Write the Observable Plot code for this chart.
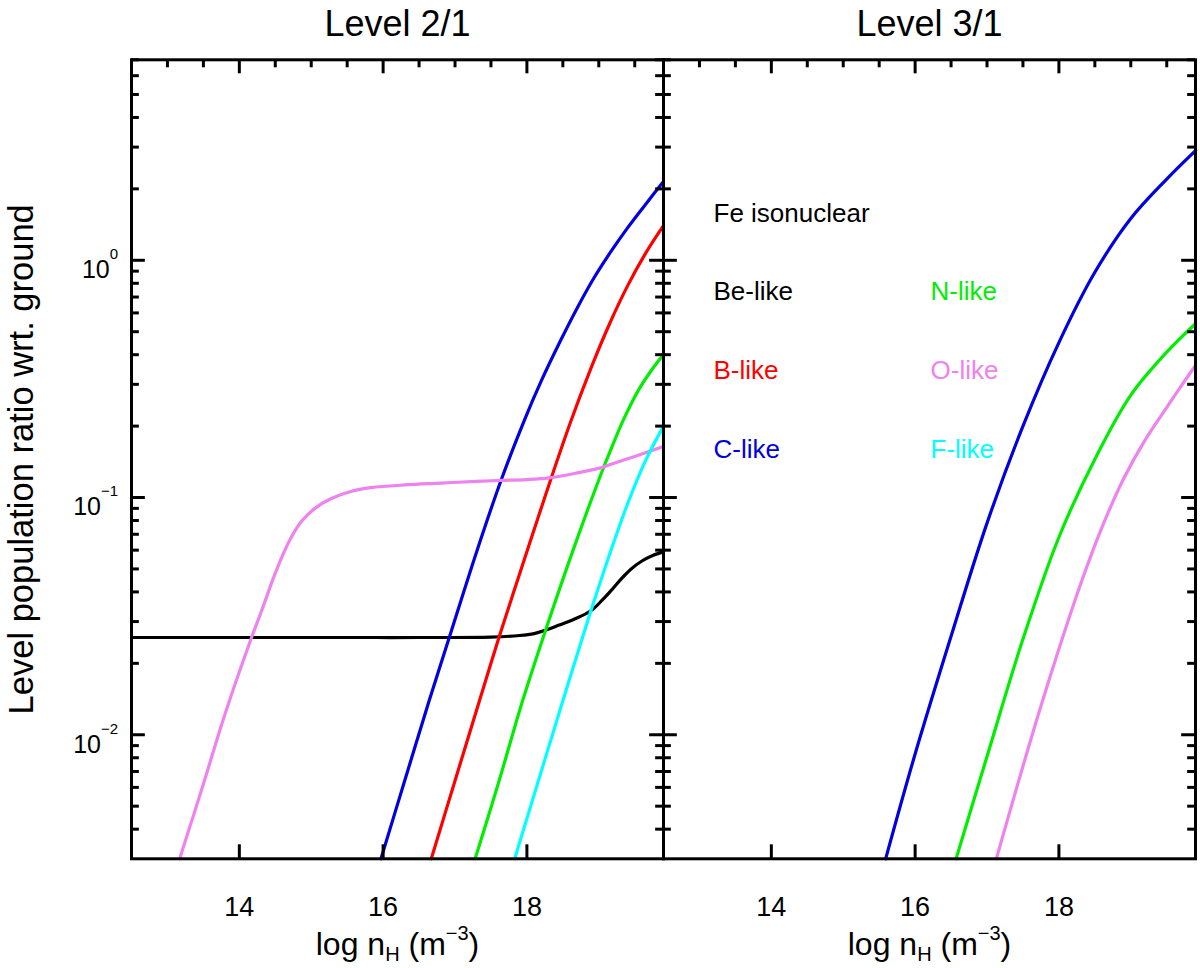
<!DOCTYPE html>
<html>
<head>
<meta charset="utf-8">
<script src="https://cdn.jsdelivr.net/npm/d3@7"></script>
<script src="https://cdn.jsdelivr.net/npm/@observablehq/plot@0.6"></script>
<style>
  body { margin: 0; background: #fff; }
  #chart svg { display: block; }
</style>
</head>
<body>
<div id="chart"></div>
<script>
const panels = ["Level 2/1", "Level 3/1"];
const ions = ["Be-like", "B-like", "C-like", "N-like", "O-like", "F-like"];
const ionColors = ["#000000", "#ff0000", "#0000e0", "#00ee00", "#ee82ee", "#00ffff"];

// Level 2/1 : log nH and population ratio
const be21N = [12.5, 13.5, 14.5, 15.5, 16.5, 17.5, 17.9, 18.1, 18.26, 18.45, 18.65, 18.89, 19.05, 19.17, 19.3, 19.45, 19.6, 19.75, 19.9];
const be21R = [0.0257, 0.0257, 0.0257, 0.0257, 0.0257, 0.0258, 0.0262, 0.0267, 0.0276, 0.029, 0.0306, 0.0333, 0.037, 0.0405, 0.045, 0.050, 0.054, 0.057, 0.059];
const b21N = [16.67, 17.0, 17.34, 17.62, 17.93, 18.24, 18.6, 18.89, 19.15, 19.4, 19.65, 19.9];
const b21R = [0.003, 0.0064, 0.0139, 0.0262, 0.0509, 0.0984, 0.205, 0.35, 0.54, 0.78, 1.07, 1.40];
const c21N = [15.97, 16.3, 16.64, 16.92, 17.3, 17.64, 17.96, 18.2, 18.47, 18.7, 18.93, 19.17, 19.4, 19.65, 19.9];
const c21R = [0.003, 0.0064, 0.0139, 0.0257, 0.059, 0.118, 0.21, 0.31, 0.46, 0.63, 0.84, 1.09, 1.37, 1.72, 2.15];
const n21N = [17.28, 17.6, 17.94, 18.26, 18.65, 19.05, 19.17, 19.35, 19.55, 19.75, 19.9];
const n21R = [0.003, 0.0062, 0.0139, 0.0276, 0.0609, 0.13, 0.16, 0.215, 0.283, 0.35, 0.40];
const o21N = [13.17, 13.5, 13.8, 14.17, 14.31, 14.5, 14.7, 14.86, 15.05, 15.28, 15.55, 15.83, 16.3, 16.8, 17.3, 17.64, 18.0, 18.31, 18.7, 19.05, 19.17, 19.5, 19.9];
const o21R = [0.003, 0.0062, 0.0122, 0.0257, 0.0333, 0.048, 0.066, 0.079, 0.090, 0.099, 0.106, 0.110, 0.113, 0.115, 0.117, 0.118, 0.119, 0.121, 0.127, 0.134, 0.138, 0.149, 0.164];
const f21N = [17.83, 18.16, 18.5, 18.89, 19.17, 19.4, 19.65, 19.9];
const f21R = [0.003, 0.0064, 0.0139, 0.0333, 0.060, 0.094, 0.143, 0.20];

// Level 3/1
const c31N = [15.59, 16.0, 16.5, 17.0, 17.5, 18.0, 18.5, 19.0, 19.5, 19.9];
const c31R = [0.003, 0.0083, 0.026, 0.078, 0.20, 0.45, 0.89, 1.5, 2.2, 2.9];
const n31N = [16.57, 17.0, 17.5, 18.0, 18.5, 19.0, 19.5, 19.9];
const n31R = [0.003, 0.0081, 0.0253, 0.068, 0.145, 0.27, 0.41, 0.54];
const o31N = [17.13, 17.4, 17.7, 18.0, 18.3, 18.6, 18.9, 19.2, 19.5, 19.7, 19.9];
const o31R = [0.003, 0.0058, 0.0118, 0.023, 0.043, 0.075, 0.12, 0.175, 0.24, 0.295, 0.36];

// axis ticks
const xMajor = [14, 16, 18];
const xMinor = [13, 13.5, 14.5, 15, 15.5, 16.5, 17, 17.5, 18.5, 19, 19.5];
const yMajor = [0.01, 0.1, 1];
const yMinor = [0.004, 0.005, 0.006, 0.007, 0.008, 0.009,
  0.02, 0.03, 0.04, 0.05, 0.06, 0.07, 0.08, 0.09,
  0.2, 0.3, 0.4, 0.5, 0.6, 0.7, 0.8, 0.9,
  2, 3, 4, 5, 6, 7];

const xLabel = "log nH (m-3)";
const yLabel = "Level population ratio wrt. ground";
const legendTitle = "Fe isonuclear";

function curve(panel, ion, logN, ratio) {
  return logN.map((x, i) => ({ panel, ion, x, r: ratio[i] }));
}

const rows = [
  ...curve(panels[0], "Be-like", be21N, be21R),
  ...curve(panels[0], "B-like", b21N, b21R),
  ...curve(panels[0], "C-like", c21N, c21R),
  ...curve(panels[0], "N-like", n21N, n21R),
  ...curve(panels[0], "O-like", o21N, o21R),
  ...curve(panels[0], "F-like", f21N, f21R),
  ...curve(panels[1], "C-like", c31N, c31R),
  ...curve(panels[1], "N-like", n31N, n31R),
  ...curve(panels[1], "O-like", o31N, o31R)
];

const W = 1200, H = 968;
const mL = 130.7, mR = 5, mT = 59.3, mB = 109.7;
const bw = (W - mL - mR) / 2; // width of one panel
const ph = H - mT - mB;       // height of a panel
const big = 14, small = 8;    // tick lengths

let chart = Plot.plot({
  width: W,
  height: H,
  marginLeft: mL,
  marginRight: mR,
  marginTop: mT,
  marginBottom: mB,
  style: {
    fontFamily: "'Liberation Sans', Arial, Helvetica, sans-serif",
    background: "white",
    color: "black",
    overflow: "visible"
  },
  fx: { domain: panels, padding: 0, axis: null },
  x: { domain: [12.5, 19.9], axis: null },
  y: { type: "log", domain: [0.003, 7], axis: null },
  color: { domain: ions, range: ionColors },
  marks: [
    Plot.line(rows, {
      fx: "panel", x: "x", y: "r", z: "ion", stroke: "ion",
      strokeWidth: 3.2, curve: "catmull-rom"
    }),
    Plot.frame({ strokeWidth: 3 }),
    // ticks on the four sides of each panel, pointing inwards
    Plot.tickY(yMajor, { y: d => d, insetRight: bw - big, strokeWidth: 3 }),
    Plot.tickY(yMinor, { y: d => d, insetRight: bw - small, strokeWidth: 3 }),
    Plot.tickY(yMajor, { y: d => d, insetLeft: bw - big, strokeWidth: 3 }),
    Plot.tickY(yMinor, { y: d => d, insetLeft: bw - small, strokeWidth: 3 }),
    Plot.tickX(xMajor, { x: d => d, insetBottom: ph - big, strokeWidth: 3 }),
    Plot.tickX(xMinor, { x: d => d, insetBottom: ph - small, strokeWidth: 3 }),
    Plot.tickX(xMajor, { x: d => d, insetTop: ph - big, strokeWidth: 3 }),
    // tick labels
    Plot.text(xMajor, {
      x: d => d, text: d => String(d), frameAnchor: "bottom",
      dy: 48.7, lineAnchor: "middle", fontSize: 27
    }),
    Plot.text(yMajor, {
      fx: () => panels[0], y: d => d,
      text: d => { const e = Math.round(Math.log10(d)); return "10^" + (e < 0 ? "\u2212" + (-e) : e); },
      frameAnchor: "left", dx: -13.4, textAnchor: "end", lineAnchor: "top", fontSize: 25
    }),
    // panel titles and axis titles
    Plot.text(panels, {
      fx: d => d, text: d => d, frameAnchor: "top",
      dy: -24.3, lineAnchor: "bottom", fontSize: 36
    }),
    Plot.text(panels, {
      fx: d => d, text: () => xLabel, frameAnchor: "bottom",
      dy: 96.5, lineAnchor: "bottom", fontSize: 32
    }),
    Plot.text([yLabel], {
      fx: () => panels[0], text: d => d, frameAnchor: "left",
      dx: -109.6, rotate: -90, textAnchor: "middle", lineAnchor: "middle", fontSize: 34.5
    }),
    // legend inside the right panel
    Plot.text([legendTitle], {
      fx: () => panels[1], text: d => d, frameAnchor: "top-left",
      dx: 50, dy: 153.7, textAnchor: "start", lineAnchor: "middle", fontSize: 26
    }),
    ...ions.map((ion, i) => Plot.text([ion], {
      fx: () => panels[1], text: d => d, frameAnchor: "top-left",
      dx: 50 + Math.floor(i / 3) * 217, dy: 231.7 + (i % 3) * 79,
      fill: ionColors[i], textAnchor: "start", lineAnchor: "middle", fontSize: 26
    }))
  ]
});

// superscripts and subscripts in the labels
d3.select(chart).selectAll("text").each(function () {
  const s = this.textContent;
  const t = d3.select(this);
  if (s.startsWith("10^")) {
    t.text("10");
    t.append("tspan").attr("dy", -19).attr("font-size", 15).text(s.slice(3));
  } else if (s === xLabel) {
    t.text("log n");
    t.append("tspan").attr("dy", 6).attr("font-size", 20).text("H");
    t.append("tspan").attr("dy", -6).text(" (m");
    t.append("tspan").attr("dy", -15).attr("font-size", 20).text("\u22123");
    t.append("tspan").attr("dy", 15).text(")");
  }
});

d3.select('#chart').append(() => chart);
</script>
</body>
</html>
